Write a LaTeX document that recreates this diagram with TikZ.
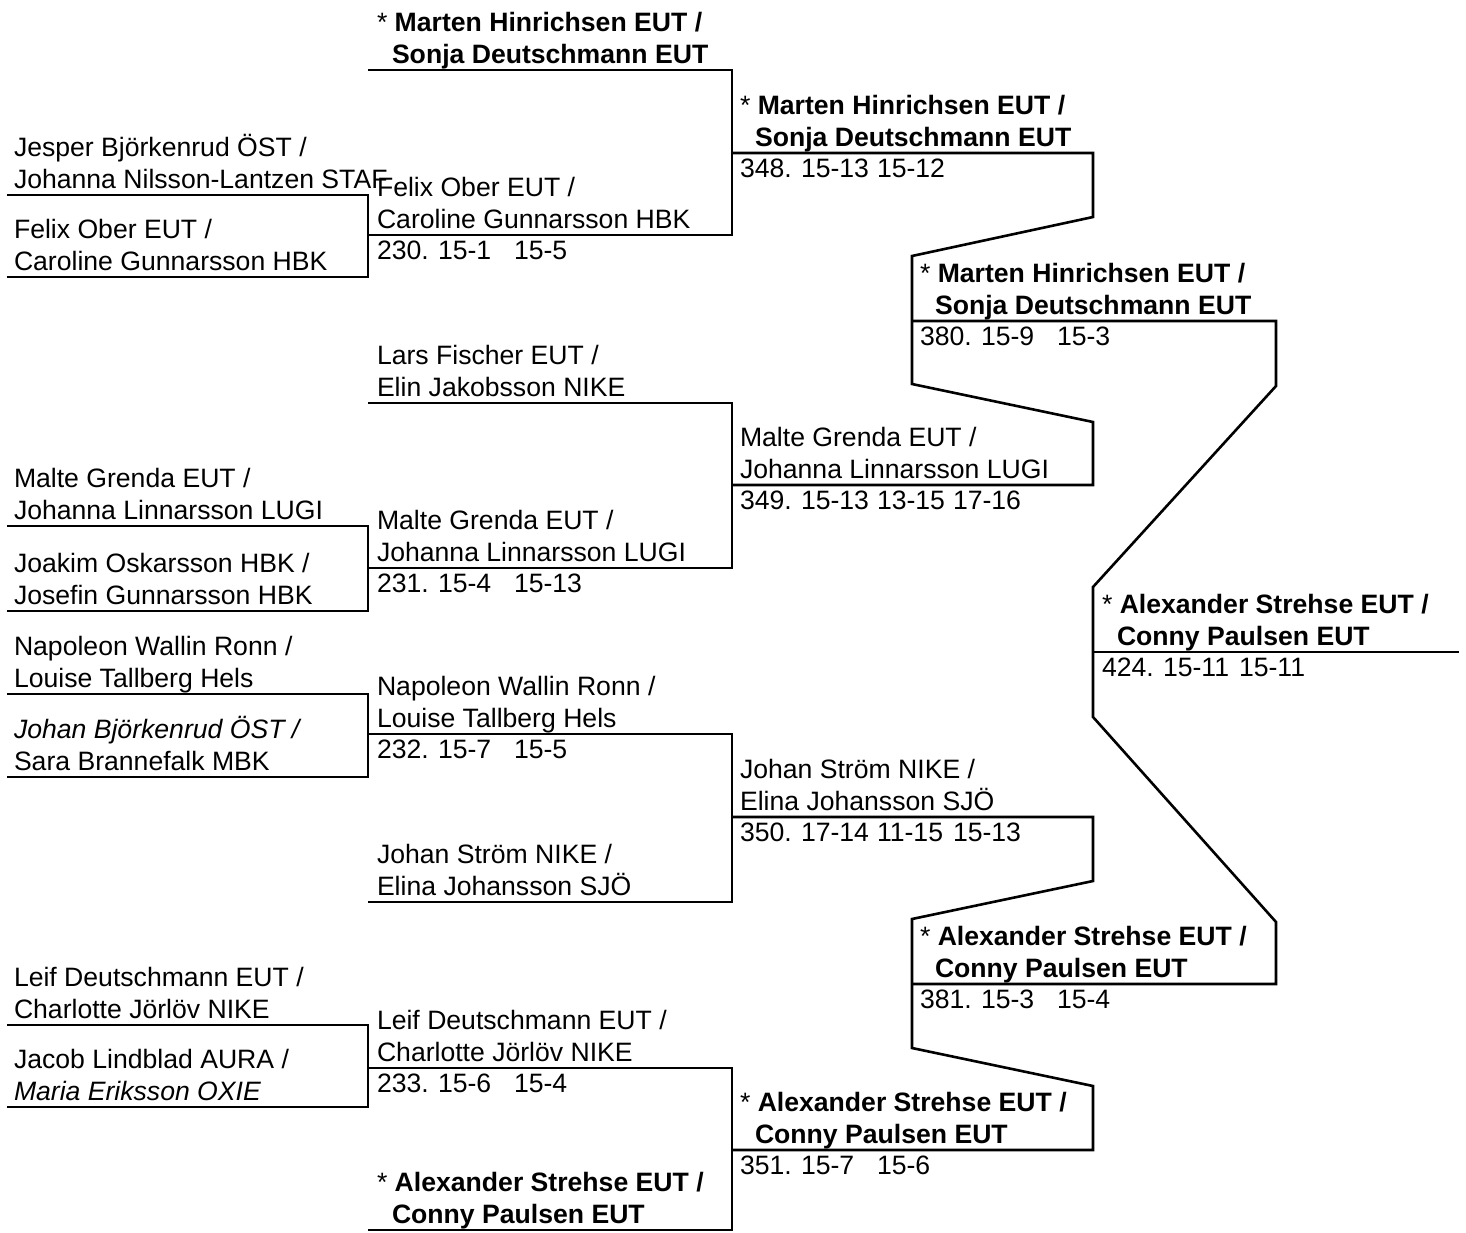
\documentclass[tikz,border=0pt]{standalone}
\usepackage{fontspec}
\setmainfont{Liberation Sans}
\newcommand\bkpair[5]{%
  \node[txt] (#1a) at (#2,{#3-39}) {#4};
  \node[txt] (#1b) at (#2,{#3-7}) {#5};}
\newcommand\bkwin[5]{%
  \node[txt] (#1a) at (#2,{#3-39}) {* \textbf{#4}};
  \node[txt] (#1b) at ({#2+15},{#3-7}) {\textbf{#5}};}
\newcommand\bkres[6]{%
  \node[txt] (#1n) at (#2,{#3+24}) {#4};
  \node[txt] (#1s) at ({#2+61},{#3+24}) {#5};
  \node[txt] (#1t) at ({#2+137},{#3+24}) {#6};}
\newcommand\bkresiii[7]{%
  \node[txt] (#1n) at (#2,{#3+24}) {#4};
  \node[txt] (#1s) at ({#2+61},{#3+24}) {#5};
  \node[txt] (#1t) at ({#2+137},{#3+24}) {#6};
  \node[txt] (#1u) at ({#2+213},{#3+24}) {#7};}
\begin{document}
\begin{tikzpicture}[x=1pt,y=-1pt,
  bk/.style={line width=2.6pt, line join=miter},
  txt/.style={anchor=base west, inner sep=0pt, outer sep=0pt,
    font=\fontsize{26.6}{32}\selectfont}]
\useasboundingbox (0,0) rectangle (1466,1232);

% ---- round 1 ----
\draw[bk] (7,195) -- (368,195) -- (368,277) -- (7,277);
\draw[bk] (7,526) -- (368,526) -- (368,611) -- (7,611);
\draw[bk] (7,694) -- (368,694) -- (368,777) -- (7,777);
\draw[bk] (7,1025) -- (368,1025) -- (368,1107) -- (7,1107);
% ---- round 2 ----
\draw[bk] (368,70) -- (732,70) -- (732,235) -- (368,235);
\draw[bk] (368,403) -- (732,403) -- (732,568) -- (368,568);
\draw[bk] (368,734) -- (732,734) -- (732,902) -- (368,902);
\draw[bk] (368,1068) -- (732,1068) -- (732,1230) -- (368,1230);
% ---- quarter finals ----
\draw[bk] (732,153) -- (1093,153) -- (1093,217) -- (912,256) -- (912,384)
  -- (1093,422) -- (1093,485) -- (732,485);
\draw[bk] (732,817) -- (1093,817) -- (1093,881) -- (912,919) -- (912,1048)
  -- (1093,1086) -- (1093,1150) -- (732,1150);
% ---- semi finals ----
\draw[bk] (912,321) -- (1276,321) -- (1276,386) -- (1093,587) -- (1093,717)
  -- (1276,922) -- (1276,984) -- (912,984);
% ---- final ----
\draw[bk] (1093,652) -- (1459,652);

% ---- column A texts ----
\bkpair{a1}{14}{195}{Jesper Björkenrud ÖST /}{Johanna Nilsson-Lantzen STAF}
\bkpair{a2}{14}{277}{Felix Ober EUT /}{Caroline Gunnarsson HBK}
\bkpair{a3}{14}{526}{Malte Grenda EUT /}{Johanna Linnarsson LUGI}
\bkpair{a4}{14}{611}{Joakim Oskarsson HBK /}{Josefin Gunnarsson HBK}
\bkpair{a5}{14}{694}{Napoleon Wallin Ronn /}{Louise Tallberg Hels}
\bkpair{a6}{14}{777}{\textit{Johan Björkenrud ÖST /}}{Sara Brannefalk MBK}
\bkpair{a7}{14}{1025}{Leif Deutschmann EUT /}{Charlotte Jörlöv NIKE}
\bkpair{a8}{14}{1107}{Jacob Lindblad AURA /}{\textit{Maria Eriksson OXIE}}

% ---- column B texts ----
\bkwin{b1}{377}{70}{Marten Hinrichsen EUT /}{Sonja Deutschmann EUT}
\bkpair{b2}{377}{235}{Felix Ober EUT /}{Caroline Gunnarsson HBK}
\bkres{r230}{377}{235}{230.}{15-1}{15-5}
\bkpair{b3}{377}{403}{Lars Fischer EUT /}{Elin Jakobsson NIKE}
\bkpair{b4}{377}{568}{Malte Grenda EUT /}{Johanna Linnarsson LUGI}
\bkres{r231}{377}{568}{231.}{15-4}{15-13}
\bkpair{b5}{377}{734}{Napoleon Wallin Ronn /}{Louise Tallberg Hels}
\bkres{r232}{377}{734}{232.}{15-7}{15-5}
\bkpair{b6}{377}{902}{Johan Ström NIKE /}{Elina Johansson SJÖ}
\bkpair{b7}{377}{1068}{Leif Deutschmann EUT /}{Charlotte Jörlöv NIKE}
\bkres{r233}{377}{1068}{233.}{15-6}{15-4}
\bkwin{b8}{377}{1230}{Alexander Strehse EUT /}{Conny Paulsen EUT}

% ---- column C texts ----
\bkwin{c1}{740}{153}{Marten Hinrichsen EUT /}{Sonja Deutschmann EUT}
\bkres{r348}{740}{153}{348.}{15-13}{15-12}
\bkpair{c2}{740}{485}{Malte Grenda EUT /}{Johanna Linnarsson LUGI}
\bkresiii{r349}{740}{485}{349.}{15-13}{13-15}{17-16}
\bkpair{c3}{740}{817}{Johan Ström NIKE /}{Elina Johansson SJÖ}
\bkresiii{r350}{740}{817}{350.}{17-14}{11-15}{15-13}
\bkwin{c4}{740}{1150}{Alexander Strehse EUT /}{Conny Paulsen EUT}
\bkres{r351}{740}{1150}{351.}{15-7}{15-6}

% ---- column D texts ----
\bkwin{d1}{920}{321}{Marten Hinrichsen EUT /}{Sonja Deutschmann EUT}
\bkres{r380}{920}{321}{380.}{15-9}{15-3}
\bkwin{d2}{920}{984}{Alexander Strehse EUT /}{Conny Paulsen EUT}
\bkres{r381}{920}{984}{381.}{15-3}{15-4}

% ---- final ----
\bkwin{e1}{1102}{652}{Alexander Strehse EUT /}{Conny Paulsen EUT}
\bkres{r424}{1102}{652}{424.}{15-11}{15-11}
\end{tikzpicture}
\end{document}
